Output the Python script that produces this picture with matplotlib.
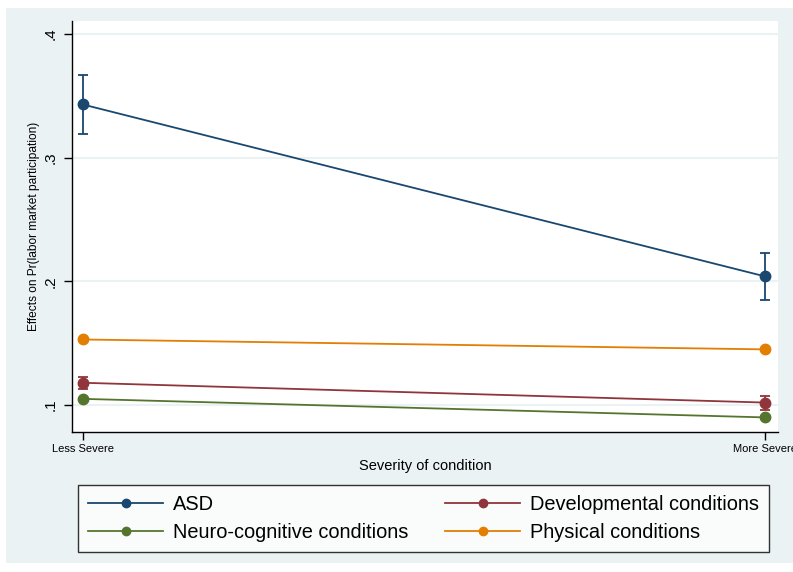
import matplotlib
matplotlib.use("Agg")
import matplotlib.pyplot as plt
from matplotlib.patches import Rectangle

plt.rcParams['font.family'] = ['Liberation Sans', 'DejaVu Sans']

# Data
severity = ["Less Severe", "More Severe"]
series_names = ["ASD", "Developmental conditions", "Neuro-cognitive conditions", "Physical conditions"]
asd = [0.343, 0.204]
asd_lo = [0.319, 0.185]
asd_hi = [0.367, 0.223]
dev = [0.118, 0.102]
dev_lo = [0.113, 0.096]
dev_hi = [0.123, 0.107]
neuro = [0.105, 0.090]
neuro_lo = [0.104, 0.089]
neuro_hi = [0.106, 0.091]
phys = [0.153, 0.145]
phys_lo = [0.152, 0.144]
phys_hi = [0.154, 0.146]
yticks = [0.1, 0.2, 0.3, 0.4]
ytick_labels = [".1", ".2", ".3", ".4"]

colors = ["#1a476f", "#90353b", "#55752f", "#e37e00"]

W, H = 793, 572
fig = plt.figure(figsize=(W / 100, H / 100), dpi=100)
fig.patch.set_facecolor("white")
fig.add_artist(Rectangle((6 / W, (H - 563) / H), (W - 6) / W, (563 - 8) / H,
                         transform=fig.transFigure, facecolor="#eaf2f3",
                         edgecolor="none", zorder=0))

ax = fig.add_axes([72 / W, (H - 432) / H, (778 - 72) / W, (432 - 21) / H])
ax.set_facecolor("white")

x = [0, 1]
data = [(asd, asd_lo, asd_hi), (dev, dev_lo, dev_hi),
        (neuro, neuro_lo, neuro_hi), (phys, phys_lo, phys_hi)]
handles = []
for (vals, lo, hi), c, name in zip(data, colors, series_names):
    yerr = [[v - l for v, l in zip(vals, lo)], [h - v for v, h in zip(vals, hi)]]
    ax.errorbar(x, vals, yerr=yerr, fmt="none", ecolor=c, elinewidth=1.3,
                capsize=3.3, capthick=1.3, zorder=3)
    ln, = ax.plot(x, vals, color=c, lw=1.3, marker="o", markersize=7.5,
                  label=name, zorder=4)
    handles.append(ln)

ax.set_xlim(-0.016, 1.019)
ax.set_ylim(0.0782, 0.4105)
ax.set_xticks(x)
ax.set_xticklabels(severity, fontsize=8)
ax.set_yticks(yticks)
ax.set_yticklabels(ytick_labels, fontsize=11, rotation=90, va="center")
ax.tick_params(axis="both", direction="out", length=6, width=1, color="black")
ax.tick_params(axis="x", pad=3)
ax.tick_params(axis="y", pad=4)
ax.grid(axis="y", color="#eaf2f3", lw=1.5, zorder=0)
ax.set_axisbelow(True)
for s in ["top", "right"]:
    ax.spines[s].set_visible(False)
for s in ["left", "bottom"]:
    ax.spines[s].set_color("black")
    ax.spines[s].set_linewidth(1)

ax.set_xlabel("Severity of condition", fontsize=10.5, labelpad=3)
ax.set_ylabel("Effects on Pr(labor market participation)", fontsize=8.6, labelpad=3)

# two columns, filled column-wise: ASD / Neuro-cognitive, Developmental / Physical
order = [0, 2, 1, 3]
leg = fig.legend([handles[i] for i in order], [series_names[i] for i in order],
                 loc="upper left", ncol=2,
                 bbox_to_anchor=(78 / W, 1 - 485 / H),
                 fontsize=14.4, frameon=True, fancybox=False, edgecolor="black",
                 handlelength=3.75, markerscale=0.8, borderaxespad=0,
                 labelspacing=0.45, handletextpad=0.5, borderpad=0.5,
                 columnspacing=1.85)
leg.get_frame().set_linewidth(1)

fig.savefig("out.png", dpi=100)
